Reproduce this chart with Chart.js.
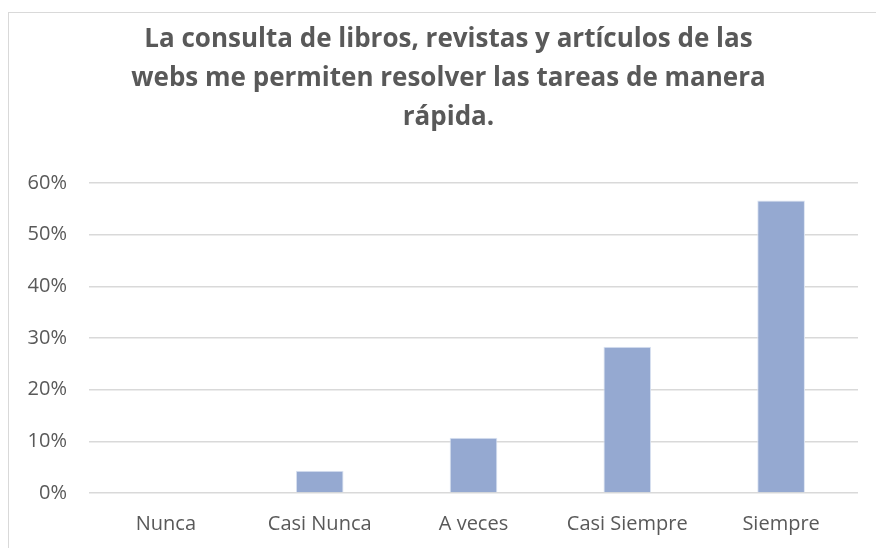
<!DOCTYPE html>
<html>
<head>
<meta charset="utf-8">
<script src="https://cdn.jsdelivr.net/npm/chart.js@4"></script>
<style>
  html, body { margin: 0; padding: 0; background: #fff; overflow: hidden; }
  #marco {
    position: absolute; left: 8px; top: 12px; width: 900px; height: 600px;
    border-left: 1px solid #d9d9d9; border-top: 1px solid #d9d9d9;
  }
  #grafico { position: absolute; left: 0; top: 0; }
</style>
</head>
<body>
<div id="marco"></div>
<canvas id="grafico" width="876" height="548"></canvas>
<script>
// Datos
const categorias = ['Nunca', 'Casi Nunca', 'A veces', 'Casi Siempre', 'Siempre'];
const porcentajes = [0, 4.3, 10.7, 28.3, 56.6];
const titulo = [
    'La consulta de libros, revistas y artículos de las',
    'webs me permiten resolver las tareas de manera',
    'rápida.'
];

const textoGris = '#595959';
const fuente = '"Open Sans", Lato, sans-serif';

Chart.defaults.font.family = fuente;
Chart.defaults.color = textoGris;

const ctx = document.getElementById('grafico').getContext('2d');
new Chart(ctx, {
    type: 'bar',
    data: {
        labels: categorias,
        datasets: [{
            data: porcentajes,
            backgroundColor: '#95a9d1',
            borderColor: '#dce4f2',
            borderWidth: { top: 1, left: 1, right: 1, bottom: 0 },
            categoryPercentage: 1,
            barPercentage: 0.31
        }]
    },
    options: {
        responsive: false,
        animation: false,
        layout: { padding: { left: 21, right: 0, top: 0, bottom: 0 } },
        plugins: {
            legend: { display: false },
            tooltip: { enabled: false },
            title: {
                display: true,
                text: titulo,
                color: textoGris,
                font: { family: fuente, size: 26, weight: 'bold', lineHeight: 1.5 },
                padding: { top: 20, bottom: 46 }
            }
        },
        scales: {
            x: {
                afterFit: (scale) => { scale.height = 55; },
                grid: { display: false, drawTicks: false },
                border: { display: false },
                ticks: { padding: 19, font: { size: 20 }, color: textoGris, maxRotation: 0 }
            },
            y: {
                min: 0,
                max: 60,
                afterFit: (scale) => { scale.width = 68; },
                grid: { color: '#d9d9d9', lineWidth: 1.5, drawTicks: false },
                border: { display: false },
                ticks: {
                    stepSize: 10,
                    padding: 22,
                    font: { size: 20 },
                    color: textoGris,
                    callback: (v) => v + '%'
                }
            },
            // eje vacío a la derecha solo para dejar el margen
            margenDerecho: {
                type: 'linear',
                position: 'right',
                afterFit: (scale) => { scale.width = 18; },
                grid: { display: false, drawTicks: false },
                border: { display: false },
                ticks: { display: false }
            }
        }
    }
});
</script>
</body>
</html>
